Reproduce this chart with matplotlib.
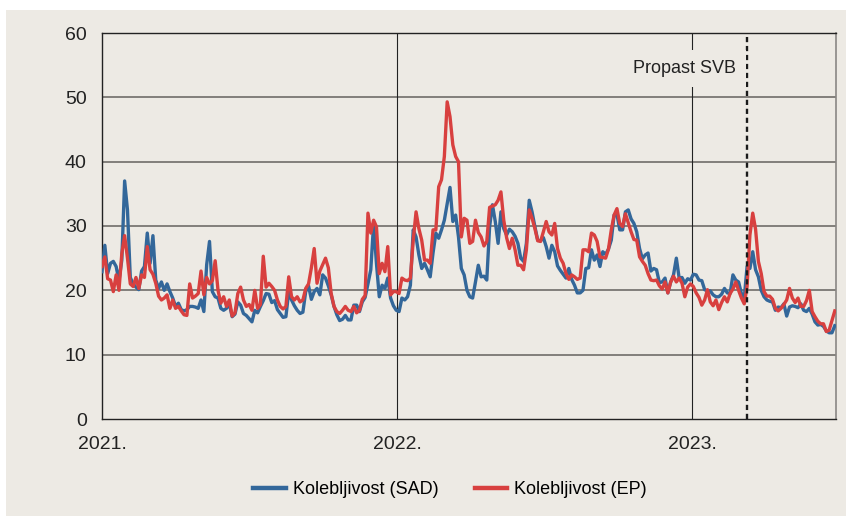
#!/usr/bin/env python3
"""Kolebljivost (SAD vs EP), 2021 - 2023, s oznakom propasti SVB."""

import matplotlib

matplotlib.use("Agg")
import matplotlib.pyplot as plt
import pandas as pd
from matplotlib.patches import Rectangle

plt.rcParams["font.family"] = ["Liberation Sans Narrow", "Liberation Sans", "DejaVu Sans"]

# half-weekly readings, starting 1 Jan 2021
START = "2021-01-01"
STEP = "84h"

vol_sad = [
    22.9, 27.0, 22.6, 24.2, 24.5, 23.7, 21.5, 24.7, 37.0, 32.5,
    22.0, 21.0, 20.5, 20.1, 23.0, 23.7, 28.9, 24.2, 28.5, 21.6,
    20.3, 21.3, 20.0, 21.0, 19.8, 18.8, 17.5, 18.0, 17.0, 16.8,
    17.0, 17.5, 17.5, 17.4, 17.2, 18.5, 16.7, 24.0, 27.6, 19.8,
    19.0, 18.8, 17.2, 16.9, 17.2, 17.9, 15.9, 16.3, 18.2, 17.7,
    16.4, 16.1, 15.6, 15.1, 16.9, 16.5, 17.5, 18.4, 19.5, 19.4,
    18.1, 18.4, 17.0, 16.4, 15.8, 15.9, 19.8, 18.5, 17.6, 16.9,
    16.4, 16.6, 19.8, 20.7, 18.6, 19.8, 20.3, 19.3, 22.4, 21.9,
    20.7, 19.3, 17.5, 16.2, 15.3, 15.5, 16.1, 15.4, 15.4, 17.7,
    17.7, 16.7, 18.2, 18.9, 21.0, 23.2, 30.4, 24.2, 19.0, 20.8,
    20.3, 21.9, 18.8, 17.6, 16.9, 16.7, 18.8, 18.5, 19.0, 20.8,
    29.4, 28.3, 25.5, 23.4, 24.2, 23.2, 22.1, 25.8, 28.9, 28.1,
    29.4, 30.9, 33.5, 36.0, 30.7, 31.7, 28.3, 23.4, 22.4, 20.0,
    19.0, 18.8, 21.3, 23.9, 22.1, 22.2, 21.6, 29.9, 33.3, 30.7,
    27.3, 32.2, 29.6, 28.6, 29.5, 29.1, 28.4, 27.3, 25.0, 24.5,
    27.3, 34.0, 32.2, 29.9, 27.8, 27.7, 28.2, 26.8, 25.0, 27.0,
    26.0, 23.8, 23.1, 22.5, 21.9, 23.4, 21.7, 20.8, 19.6, 19.6,
    20.0, 23.4, 23.5, 26.3, 24.7, 25.5, 23.7, 26.0, 25.6, 26.4,
    27.8, 31.7, 31.8, 29.4, 29.4, 32.2, 32.5, 31.1, 30.4, 29.1,
    26.5, 24.9, 25.5, 25.8, 23.0, 23.4, 23.2, 21.2, 21.3, 21.9,
    19.6, 21.3, 22.4, 25.0, 21.9, 22.0, 21.1, 21.8, 21.6, 22.5,
    22.4, 21.6, 21.5, 20.1, 19.9, 19.9, 19.3, 19.0, 19.0, 19.4,
    20.3, 19.6, 19.5, 22.4, 21.6, 21.3, 19.5, 18.8, 23.7, 23.4,
    26.0, 23.2, 22.1, 20.0, 19.0, 18.5, 18.3, 18.2, 16.9, 17.4,
    17.3, 17.9, 16.0, 17.4, 17.6, 17.5, 17.3, 17.9, 16.9, 16.7,
    17.2, 16.3, 15.1, 14.6, 14.7, 14.4, 13.7, 13.4, 13.4, 14.5,
]

vol_ep = [
    23.7, 25.2, 21.8, 21.6, 19.8, 22.4, 20.0, 25.7, 28.5, 25.0,
    21.0, 20.6, 22.0, 20.3, 22.4, 22.0, 26.8, 23.2, 22.5, 21.1,
    19.1, 18.5, 18.8, 19.3, 17.2, 18.5, 17.2, 17.5, 16.8, 16.2,
    16.1, 21.0, 18.8, 19.1, 19.5, 23.0, 19.3, 22.0, 21.0, 21.5,
    24.6, 20.0, 18.0, 19.0, 17.5, 18.5, 16.0, 16.5, 19.5, 20.5,
    18.5, 17.5, 17.8, 16.9, 20.0, 17.2, 17.8, 25.3, 20.5, 21.1,
    20.6, 20.0, 18.5, 17.5, 17.1, 17.5, 22.1, 19.0, 18.5, 19.0,
    18.2, 18.5, 20.3, 21.0, 23.5, 26.5, 21.1, 23.0, 24.0, 25.0,
    23.5, 19.5, 17.5, 16.7, 16.4, 16.9, 17.5, 16.9, 16.7, 17.5,
    16.5, 16.9, 18.6, 19.2, 32.0, 28.9, 30.9, 29.9, 22.6, 24.2,
    22.9, 26.8, 19.3, 19.8, 19.8, 19.5, 21.9, 21.6, 21.5, 21.9,
    27.8, 32.2, 29.6, 27.8, 24.7, 24.7, 24.2, 29.4, 29.4, 36.1,
    37.2, 40.8, 49.3, 47.0, 42.6, 40.8, 40.0, 28.3, 31.2, 30.9,
    27.3, 27.6, 30.9, 29.0, 28.3, 26.9, 27.6, 32.9, 33.1, 33.3,
    34.0, 35.3, 30.9, 28.2, 26.5, 28.1, 26.3, 23.9, 23.9, 23.2,
    26.3, 32.5, 31.2, 29.6, 27.7, 27.6, 29.1, 30.7, 29.1, 28.6,
    30.4, 26.5, 25.0, 24.2, 22.6, 21.7, 22.4, 22.1, 21.7, 21.9,
    26.3, 26.3, 26.0, 28.9, 28.6, 27.6, 25.2, 25.1, 25.0, 26.4,
    29.4, 31.7, 32.7, 30.4, 29.9, 31.9, 30.5, 29.1, 27.9, 27.8,
    25.2, 24.5, 23.9, 22.6, 21.6, 21.5, 21.6, 20.7, 20.2, 21.3,
    19.6, 21.3, 22.2, 21.3, 21.9, 21.1, 19.0, 20.5, 21.0, 20.6,
    19.6, 18.9, 17.7, 18.5, 20.1, 18.2, 17.6, 18.5, 17.0, 18.1,
    19.0, 18.2, 19.5, 20.2, 21.3, 20.0, 18.8, 17.9, 20.6, 28.6,
    32.0, 29.5, 24.5, 22.6, 19.8, 19.1, 19.1, 18.6, 17.2, 16.8,
    17.2, 17.8, 18.5, 20.3, 18.8, 18.1, 18.8, 17.5, 17.5, 18.4,
    20.0, 16.7, 15.9, 15.2, 14.8, 14.8, 13.6, 13.8, 15.3, 16.8,
]

year_ticks = ["2021-01-01", "2022-01-01", "2023-01-01"]
year_labels = ["2021.", "2022.", "2023."]
y_ticks = [0, 10, 20, 30, 40, 50, 60]
svb_date = "2023-03-10"
svb_label = "Propast SVB"
x_end = "2023-06-28"

BG = "#EDEAE4"
BLUE = "#33679A"
RED = "#D8403F"

dates = pd.date_range(START, periods=len(vol_sad), freq=STEP)

fig = plt.figure(figsize=(8.46, 5.16), dpi=100)
fig.patch.set_facecolor("white")
fig.patches.append(
    Rectangle((6 / 846, 0), 1, 506 / 516, transform=fig.transFigure,
              facecolor=BG, edgecolor="none", zorder=-10)
)

ax = fig.add_axes([102 / 846, 97 / 516, 734 / 846, 386 / 516])
ax.set_facecolor(BG)

for y in y_ticks[1:-1]:
    ax.axhline(y, color="#64615e", linewidth=1.1, zorder=1)
for d in year_ticks[1:]:
    ax.axvline(pd.Timestamp(d), color="#222222", linewidth=0.8, zorder=1)

ax.plot(dates, vol_sad, color=BLUE, linewidth=2.4, label="Kolebljivost (SAD)", zorder=3)
ax.plot(dates, vol_ep, color=RED, linewidth=2.4, label="Kolebljivost (EP)", zorder=4)

ax.axvline(pd.Timestamp(svb_date), color="#1a1a1a", linewidth=1.7,
           linestyle=(0, (2.2, 1.6)), zorder=5)
ax.text(pd.Timestamp(svb_date) - pd.Timedelta(days=14), 54.5, svb_label,
        ha="right", va="center", fontsize=13, color="#222222", zorder=6,
        bbox=dict(facecolor=BG, edgecolor="none", pad=7))

ax.set_xlim(pd.Timestamp(START), pd.Timestamp(x_end))
ax.set_ylim(0, 60)
ax.set_yticks(y_ticks)
ax.set_xticks([pd.Timestamp(d) for d in year_ticks])
ax.set_xticklabels(year_labels)
ax.tick_params(axis="both", length=0, labelsize=14, colors="#222222")
ax.tick_params(axis="y", pad=11)
ax.tick_params(axis="x", pad=12)

for side in ["left", "bottom", "top"]:
    ax.spines[side].set_color("#222222")
    ax.spines[side].set_linewidth(1.0)
ax.spines["right"].set_color("#8a8784")
ax.spines["right"].set_linewidth(1.2)

handles, labels = ax.get_legend_handles_labels()
leg = fig.legend(handles, labels, loc="center", bbox_to_anchor=(450 / 846, 26 / 516),
                 ncol=2, frameon=False, fontsize=13, handlelength=1.8,
                 handletextpad=0.4, columnspacing=2.0)
for line in leg.get_lines():
    line.set_linewidth(3.2)

fig.savefig("out.png", dpi=100, facecolor=fig.get_facecolor())
plt.close(fig)
